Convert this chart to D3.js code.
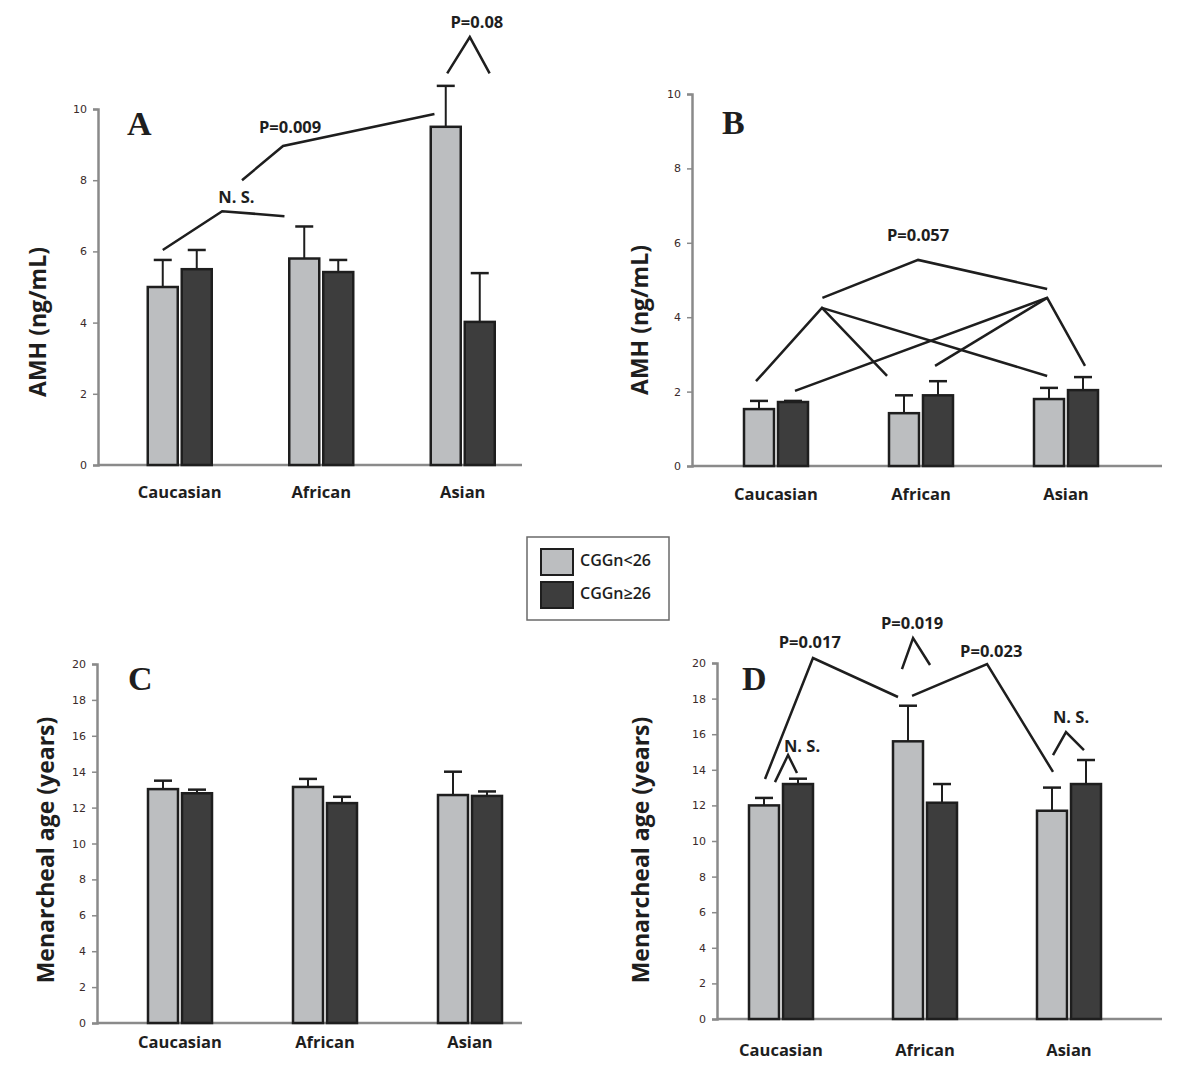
<!DOCTYPE html>
<html>
<head>
<meta charset="utf-8">
<script src="https://cdn.jsdelivr.net/npm/d3@7"></script>
<style>
  body { margin: 0; background: #fff; }
  text { font-family: "Open Sans", sans-serif; }
</style>
</head>
<body>
<script>
// categories and series
const categories = ["Caucasian", "African", "Asian"];
const seriesNames = ["CGGn<26", "CGGn\u226526"];

// A: AMH, group 1
const amhA_low = [5.0, 5.8, 9.5];
const amhA_lowSE = [0.76, 0.9, 1.15];
const amhA_high = [5.5, 5.42, 4.02];
const amhA_highSE = [0.54, 0.34, 1.37];

// B: AMH, group 2
const amhB_low = [1.53, 1.42, 1.8];
const amhB_lowSE = [0.22, 0.48, 0.3];
const amhB_high = [1.72, 1.9, 2.04];
const amhB_highSE = [0.03, 0.38, 0.35];

// C: menarcheal age, group 1
const menC_low = [13.03, 13.15, 12.7];
const menC_lowSE = [0.47, 0.45, 1.3];
const menC_high = [12.8, 12.25, 12.65];
const menC_highSE = [0.2, 0.35, 0.25];

// D: menarcheal age, group 2
const menD_low = [12.0, 15.6, 11.7];
const menD_lowSE = [0.42, 2.0, 1.3];
const menD_high = [13.2, 12.15, 13.2];
const menD_highSE = [0.3, 1.05, 1.35];

const amhTicks = [0, 2, 4, 6, 8, 10];
const menTicks = [0, 2, 4, 6, 8, 10, 12, 14, 16, 18, 20];

const fills = ["#bcbec0", "#3d3d3d"];

const svg = d3.select("body").append("svg")
  .attr("width", 1200)
  .attr("height", 1069)
  .style("background", "#fff");

// annotations: lines as [groupPos, value] points, texts at [groupPos, value]
const panels = [
  {
    letter: "A", letterX: 127, letterY: 135,
    axisX: 98, axisEnd: 522, y0: 465, yTop: 109, max: 10,
    bandStart: 109, step: 141.5, ticks: amhTicks,
    label: "AMH (ng/mL)", labelX: 40, labelY: 322, catY: 498,
    low: amhA_low, lowSE: amhA_lowSE, high: amhA_high, highSE: amhA_highSE,
    lines: [
      [[-0.12, 6.04], [0.30, 7.13], [0.74, 6.99]],
      [[0.44, 8.0], [0.73, 8.96], [1.80, 9.86]],
      [[1.89, 11.0], [2.05, 12.02], [2.19, 11.0]]
    ],
    notes: [["N. S.", 0.40, 7.36], ["P=0.009", 0.78, 9.33], ["P=0.08", 2.10, 12.28]]
  },
  {
    letter: "B", letterX: 722, letterY: 134,
    axisX: 692, axisEnd: 1162, y0: 466, yTop: 94, max: 10,
    bandStart: 703.5, step: 145, ticks: amhTicks,
    label: "AMH (ng/mL)", labelX: 642, labelY: 320, catY: 500,
    low: amhB_low, lowSE: amhB_lowSE, high: amhB_high, highSE: amhB_highSE,
    lines: [
      [[0.32, 4.52], [0.98, 5.54], [1.87, 4.76]],
      [[-0.138, 2.28], [0.317, 4.25], [0.766, 2.42]],
      [[0.317, 4.25], [1.87, 2.42]],
      [[0.131, 2.02], [1.87, 4.52], [2.131, 2.69]],
      [[1.097, 2.69], [1.87, 4.52]]
    ],
    notes: [["P=0.057", 0.98, 6.05]]
  },
  {
    letter: "C", letterX: 128, letterY: 690,
    axisX: 97, axisEnd: 522, y0: 1023, yTop: 664, max: 20,
    bandStart: 107.5, step: 145, ticks: menTicks,
    label: "Menarcheal age (years)", labelX: 48, labelY: 850, catY: 1048,
    low: menC_low, lowSE: menC_lowSE, high: menC_high, highSE: menC_highSE,
    lines: [], notes: []
  },
  {
    letter: "D", letterX: 742, letterY: 690,
    axisX: 717, axisEnd: 1162, y0: 1019, yTop: 663, max: 20,
    bandStart: 709, step: 144, ticks: menTicks,
    label: "Menarcheal age (years)", labelX: 643, labelY: 850, catY: 1056,
    low: menD_low, lowSE: menD_lowSE, high: menD_high, highSE: menD_highSE,
    lines: [
      [[-0.111, 13.48], [0.222, 20.28], [0.8125, 18.09]],
      [[0.91, 18.15], [1.431, 19.94], [1.889, 13.88]],
      [[0.84, 19.66], [0.917, 21.4], [1.035, 19.89]],
      [[-0.042, 13.31], [0.049, 14.83], [0.111, 13.82]],
      [[1.889, 14.83], [1.979, 16.12], [2.104, 15.11]]
    ],
    notes: [["P=0.017", 0.20, 20.84], ["P=0.019", 0.91, 21.9], ["P=0.023", 1.46, 20.34],
            ["N. S.", 0.146, 15.0], ["N. S.", 2.014, 16.63]]
  }
];

panels.forEach(p => {
  const g = svg.append("g");
  const y = d3.scaleLinear().domain([0, p.max]).range([p.y0, p.yTop]);
  const x = d3.scaleBand().domain(categories)
    .range([p.bandStart, p.bandStart + p.step * categories.length]);
  const gx = d3.scaleLinear().domain([0, 2])
    .range([x(categories[0]) + x.bandwidth() / 2, x(categories[2]) + x.bandwidth() / 2]);

  // y axis
  const yAxis = d3.axisLeft(y).tickValues(p.ticks).tickSize(5).tickPadding(6);
  const ya = g.append("g").attr("transform", `translate(${p.axisX},0)`).call(yAxis);
  ya.select(".domain").attr("stroke", "#8a8a8a").attr("stroke-width", 2.5);
  ya.selectAll(".tick line").attr("stroke", "#8a8a8a").attr("stroke-width", 1.5);
  ya.selectAll(".tick text").attr("fill", "#3a2a2a").style("font-size", "11px")
    .style("font-family", "'DejaVu Sans', sans-serif");

  // x axis line
  g.append("line")
    .attr("x1", p.axisX).attr("x2", p.axisEnd)
    .attr("y1", p.y0).attr("y2", p.y0)
    .attr("stroke", "#8a8a8a").attr("stroke-width", 2.5);

  // bars
  const rows = [];
  categories.forEach((c, i) => {
    rows.push({ c, s: 0, v: p.low[i], e: p.lowSE[i] });
    rows.push({ c, s: 1, v: p.high[i], e: p.highSE[i] });
  });
  const bw = 30;
  const bx = d => x(d.c) + x.bandwidth() / 2 + (d.s === 0 ? -bw - 2 : 2);

  // error bars (upper only)
  g.selectAll(".err").data(rows).enter().append("line")
    .attr("x1", d => bx(d) + bw / 2).attr("x2", d => bx(d) + bw / 2)
    .attr("y1", d => y(d.v)).attr("y2", d => y(d.v + d.e))
    .attr("stroke", "#1e1e1e").attr("stroke-width", 2);
  g.selectAll(".cap").data(rows).enter().append("line")
    .attr("x1", d => bx(d) + bw / 2 - 9).attr("x2", d => bx(d) + bw / 2 + 9)
    .attr("y1", d => y(d.v + d.e)).attr("y2", d => y(d.v + d.e))
    .attr("stroke", "#1e1e1e").attr("stroke-width", 2.5);

  g.selectAll("rect").data(rows).enter().append("rect")
    .attr("x", d => bx(d))
    .attr("y", d => y(d.v))
    .attr("width", bw)
    .attr("height", d => y(0) - y(d.v))
    .attr("fill", d => fills[d.s])
    .attr("stroke", "#1e1e1e")
    .attr("stroke-width", 2.5);

  // category labels
  g.selectAll(".cat").data(categories).enter().append("text")
    .attr("x", d => x(d) + x.bandwidth() / 2)
    .attr("y", p.catY)
    .attr("text-anchor", "middle")
    .style("font-size", "16.5px").style("font-weight", 700)
    .attr("fill", "#1e1e1e")
    .text(d => d);

  // y label
  g.append("text")
    .attr("transform", `translate(${p.labelX},${p.labelY}) rotate(-90)`)
    .attr("text-anchor", "middle")
    .attr("dominant-baseline", "middle")
    .style("font-size", "23px").style("font-weight", 700)
    .attr("fill", "#1e1e1e")
    .text(p.label);

  // panel letter
  g.append("text")
    .attr("x", p.letterX).attr("y", p.letterY)
    .style("font-family", "'Liberation Serif', serif")
    .style("font-size", "34px").style("font-weight", 700)
    .attr("fill", "#1e1e1e")
    .text(p.letter);

  // significance lines
  const line = d3.line().x(d => gx(d[0])).y(d => y(d[1]));
  g.selectAll(".sig").data(p.lines).enter().append("path")
    .attr("d", line)
    .attr("fill", "none")
    .attr("stroke", "#1e1e1e")
    .attr("stroke-width", 2.5);

  g.selectAll(".note").data(p.notes).enter().append("text")
    .attr("x", d => gx(d[1])).attr("y", d => y(d[2]))
    .attr("text-anchor", "middle")
    .style("font-size", "16.5px").style("font-weight", 700)
    .attr("fill", "#1e1e1e")
    .text(d => d[0]);
});

// legend
const lg = svg.append("g");
lg.append("rect").attr("x", 527).attr("y", 537).attr("width", 142).attr("height", 83)
  .attr("fill", "#fff").attr("stroke", "#6a6a6a").attr("stroke-width", 1.5);
seriesNames.forEach((s, i) => {
  lg.append("rect").attr("x", 541).attr("y", 549 + i * 33).attr("width", 32).attr("height", 26)
    .attr("fill", fills[i]).attr("stroke", "#1e1e1e").attr("stroke-width", 2);
  lg.append("text").attr("x", 580).attr("y", 562 + i * 33)
    .attr("dominant-baseline", "middle")
    .style("font-size", "16px").style("font-weight", 600)
    .attr("fill", "#1e1e1e")
    .text(s);
});
</script>
</body>
</html>
